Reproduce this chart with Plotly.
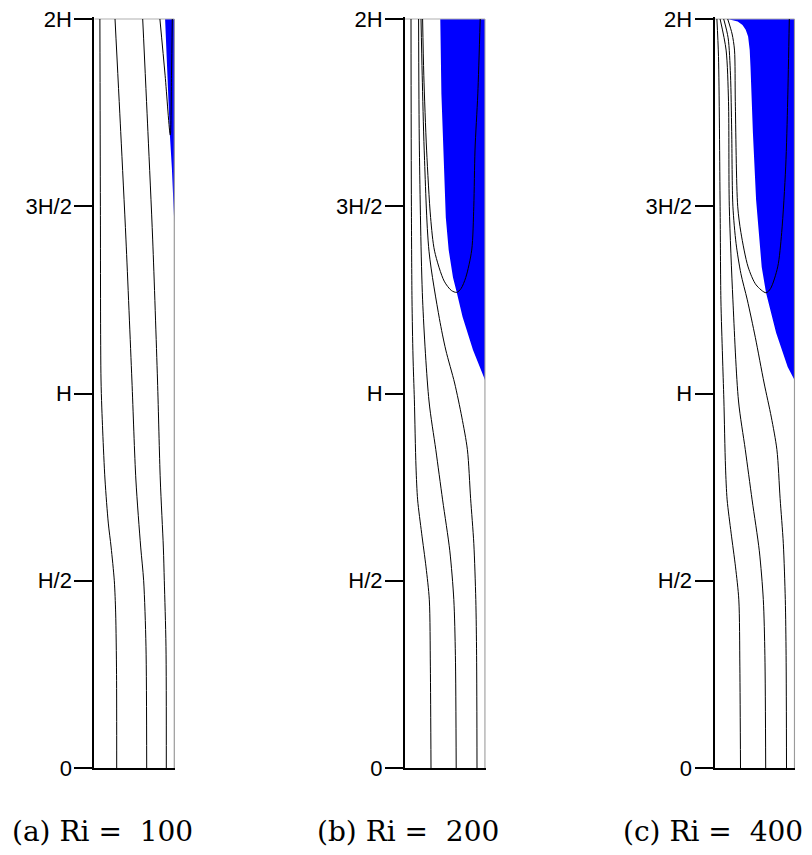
import plotly.graph_objects as go

# ---------------- data (x: fraction of channel width, y: height in units of H) -------------
tick_vals = [0, 0.5, 1.0, 1.5, 2.0]
tick_text = ["0", "H/2", "H", "3H/2", "2H"]
panel_labels = ["(a) Ri =\u00a0\u00a0100", "(b) Ri =\u00a0\u00a0200", "(c) Ri =\u00a0\u00a0400"]

wall_x = [1.0, 1.0]
wall_y = [0.0, 2.0]
top_x = [0.0, 1.0]
top_y = [2.0, 2.0]

# Panel (a) Ri = 100
a1_x = [0.07, 0.076, 0.084, 0.105, 0.134, 0.175, 0.21, 0.25, 0.267, 0.278, 0.28]
a1_y = [2.0, 1.5, 1.036, 0.9, 0.769, 0.654, 0.59, 0.5, 0.414, 0.25, 0.0]
a2_x = [0.259, 0.33, 0.396, 0.47, 0.52, 0.58, 0.617, 0.646, 0.655]
a2_y = [2.0, 1.7, 1.41, 1.036, 0.769, 0.59, 0.5, 0.325, 0.0]
a3_x = [0.605, 0.67, 0.73, 0.79, 0.825, 0.863, 0.875, 0.896, 0.9]
a3_y = [2.0, 1.7, 1.41, 1.036, 0.769, 0.59, 0.5, 0.325, 0.0]
aU_x = [0.82, 0.885, 0.95, 0.965, 0.975]
aU_y = [2.0, 1.85, 1.69, 1.85, 2.0]
aB_x = [0.885, 0.91, 0.945, 0.97, 0.985, 1.0, 1.0, 0.885]
aB_y = [2.0, 1.85, 1.69, 1.6, 1.517, 1.455, 2.0, 2.0]

# Panel (b) Ri = 200
b1_x = [0.075, 0.08, 0.0875, 0.1, 0.117, 0.1375, 0.158, 0.208, 0.2625, 0.304, 0.317, 0.325]
b1_y = [2.0, 1.5, 1.25, 1.1, 0.983, 0.804, 0.716, 0.627, 0.537, 0.449, 0.27, 0.0]
b2_x = [0.17, 0.18, 0.22, 0.30, 0.385, 0.47, 0.56, 0.61, 0.63, 0.64]
b2_y = [2.0, 1.65, 1.25, 0.98, 0.85, 0.716, 0.58, 0.45, 0.3, 0.0]
b3_x = [0.20, 0.215, 0.24, 0.30, 0.43, 0.51, 0.62, 0.71, 0.78, 0.82, 0.86, 0.885, 0.895, 0.9]
b3_y = [2.0, 1.85, 1.65, 1.38, 1.2, 1.116, 1.028, 0.937, 0.85, 0.72, 0.6, 0.45, 0.3, 0.0]
bU_x = [0.22, 0.235, 0.27, 0.32, 0.37, 0.49, 0.58, 0.647, 0.70, 0.76, 0.834, 0.86, 0.875, 0.91, 0.94]
bU_y = [2.0, 1.85, 1.65, 1.47, 1.38, 1.30, 1.275, 1.27, 1.28, 1.31, 1.383, 1.5, 1.65, 1.8, 2.0]
bB_x = [0.441, 0.445, 0.455, 0.48, 0.51, 0.546, 0.6, 0.647, 0.72, 0.85, 1.0, 1.0, 0.441]
bB_y = [2.0, 1.9, 1.8, 1.65, 1.47, 1.383, 1.31, 1.27, 1.204, 1.116, 1.036, 2.0, 2.0]

# Panel (c) Ri = 400
c1_x = [0.03, 0.05, 0.07, 0.08, 0.1, 0.117, 0.1375, 0.158, 0.208, 0.2625, 0.304, 0.317, 0.325]
c1_y = [2.0, 1.9, 1.5, 1.25, 1.1, 0.983, 0.804, 0.716, 0.627, 0.537, 0.449, 0.27, 0.0]
c2_x = [0.07, 0.145, 0.175, 0.185, 0.23, 0.30, 0.385, 0.47, 0.56, 0.61, 0.63, 0.64]
c2_y = [2.0, 1.917, 1.78, 1.5, 1.25, 0.98, 0.85, 0.716, 0.58, 0.45, 0.3, 0.0]
c3_x = [0.115, 0.17, 0.2, 0.215, 0.23, 0.27, 0.33, 0.41, 0.51, 0.62, 0.71, 0.78, 0.82, 0.86, 0.885, 0.895, 0.9]
c3_y = [2.0, 1.95, 1.85, 1.7, 1.5, 1.4, 1.32, 1.25, 1.15, 1.028, 0.937, 0.85, 0.72, 0.6, 0.45, 0.3, 0.0]
cU_x = [0.165, 0.22, 0.25, 0.26, 0.29, 0.33, 0.42, 0.52, 0.644, 0.70, 0.79, 0.84, 0.89, 0.915, 0.935]
cU_y = [2.0, 1.96, 1.917, 1.78, 1.5, 1.43, 1.338, 1.29, 1.269, 1.28, 1.338, 1.43, 1.605, 1.784, 2.0]
cB_x = [0.165, 0.29, 0.35, 0.39, 0.42, 0.44, 0.45, 0.465, 0.48, 0.52, 0.55, 0.59, 0.644, 0.77, 0.915, 1.0, 1.0, 0.165]
cB_y = [2.0, 1.993, 1.984, 1.971, 1.953, 1.917, 1.872, 1.75, 1.696, 1.517, 1.43, 1.338, 1.269, 1.162, 1.071, 1.036, 2.0, 2.0]

panels = [
    dict(blue=(aB_x, aB_y), lines=[(a1_x, a1_y), (a2_x, a2_y), (a3_x, a3_y), (aU_x, aU_y)]),
    dict(blue=(bB_x, bB_y), lines=[(b1_x, b1_y), (b2_x, b2_y), (b3_x, b3_y), (bU_x, bU_y)]),
    dict(blue=(cB_x, cB_y), lines=[(c1_x, c1_y), (c2_x, c2_y), (c3_x, c3_y), (cU_x, cU_y)]),
]

# ---------------- layout geometry ----------------
W, H = 812, 855
x0_px = [94.3, 405.0, 714.5]     # pixel of x = 0 in each panel
px_per_x = 80.0
x_range = [0.0, 1.01]
y_range = [0.0, 2.006]
y0_px = 768.0
px_per_y = 374.5

fig = go.Figure()

layout_axes = {}
for i, p in enumerate(panels):
    n = "" if i == 0 else str(i + 1)
    xa, ya = "x" + n, "y" + n
    # blue region
    fig.add_trace(go.Scatter(x=p["blue"][0], y=p["blue"][1], xaxis=xa, yaxis=ya,
                             mode="lines", fill="toself", fillcolor="#0000ff",
                             line=dict(width=0, color="#0000ff"), hoverinfo="skip",
                             showlegend=False))
    # walls
    fig.add_trace(go.Scatter(x=wall_x, y=wall_y, xaxis=xa, yaxis=ya, mode="lines",
                             line=dict(color="#9a9a9a", width=1.2), showlegend=False))
    fig.add_trace(go.Scatter(x=top_x, y=top_y, xaxis=xa, yaxis=ya, mode="lines",
                             line=dict(color="#b0b0b0", width=1.2), showlegend=False))
    # streamlines
    for lx, ly in p["lines"]:
        fig.add_trace(go.Scatter(x=lx, y=ly, xaxis=xa, yaxis=ya, mode="lines",
                                 line=dict(color="black", width=1, shape="spline", smoothing=0.8),
                                 showlegend=False))

    left = x0_px[i]
    right = left + (x_range[1] - x_range[0]) * px_per_x
    bottom = y0_px
    top = y0_px - (y_range[1] - y_range[0]) * px_per_y
    layout_axes["xaxis" + n] = dict(domain=[left / W, right / W], range=x_range,
                                    showgrid=False, zeroline=False, showticklabels=False,
                                    ticks="", showline=True, linecolor="black", linewidth=2,
                                    anchor=ya, fixedrange=True, automargin=False)
    layout_axes["yaxis" + n] = dict(domain=[(H - bottom) / H, (H - top) / H], range=y_range,
                                    showgrid=False, zeroline=False, tickmode="array",
                                    tickvals=tick_vals, ticktext=tick_text, ticks="outside",
                                    ticklen=18, tickwidth=2, tickcolor="black",
                                    showline=True, linecolor="black", linewidth=2,
                                    ticklabelstandoff=-2,
                                    tickfont=dict(family="Liberation Sans, Arial", size=22, color="black"),
                                    anchor=xa, fixedrange=True, automargin=False)

annotations = []
label_cx = [102, 408, 713]
for i, t in enumerate(panel_labels):
    annotations.append(dict(text=t, xref="paper", yref="paper", x=label_cx[i] / W, y=1 - 831 / H,
                            xanchor="center", yanchor="middle", showarrow=False,
                            font=dict(family="DejaVu Serif", size=28, color="black")))

fig.update_layout(width=W, height=H, margin=dict(l=0, r=0, t=0, b=0, autoexpand=False),
                  paper_bgcolor="white", plot_bgcolor="white", showlegend=False,
                  annotations=annotations, **layout_axes)

fig.write_html("out.html", config={"displayModeBar": False},
               post_script="document.body.style.margin='0';document.body.style.overflow='hidden';")
